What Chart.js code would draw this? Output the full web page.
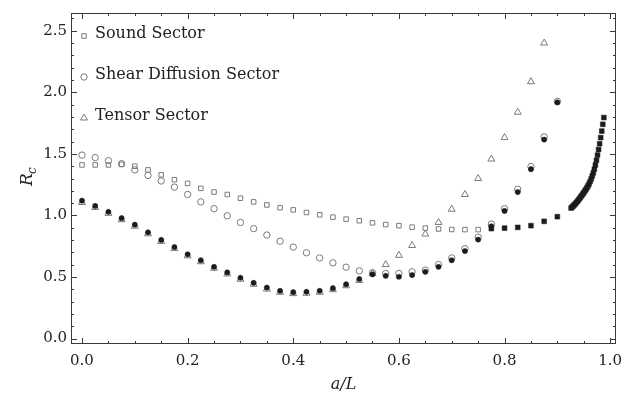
<!DOCTYPE html>
<html>
<head>
<meta charset="utf-8">
<script src="https://cdn.jsdelivr.net/npm/chart.js@4"></script>
<style>
  html, body { margin: 0; padding: 0; background: #fff; }
</style>
</head>
<body>
<canvas id="myChart" width="644" height="396"></canvas>
<script>
// a/L grid of the regular points
const gridX = [0.000, 0.025, 0.050, 0.075, 0.100, 0.125, 0.150, 0.175, 0.200, 0.225,
               0.250, 0.275, 0.300, 0.325, 0.350, 0.375, 0.400, 0.425, 0.450, 0.475,
               0.500, 0.525, 0.550, 0.575, 0.600, 0.625, 0.650, 0.675, 0.700, 0.725,
               0.750, 0.775, 0.800, 0.825, 0.850, 0.875, 0.900];

// open markers
const soundOpen = [1.41, 1.41, 1.41, 1.415, 1.40, 1.37, 1.33, 1.29, 1.26, 1.22,
                   1.19, 1.17, 1.14, 1.11, 1.085, 1.063, 1.045, 1.024, 1.005, 0.986,
                   0.970, 0.957, 0.940, 0.926, 0.917, 0.905, 0.897, 0.890, 0.886, 0.885,
                   0.885];
const shearOpen = [1.49, 1.47, 1.445, 1.42, 1.37, 1.325, 1.28, 1.23, 1.17, 1.11,
                   1.055, 0.997, 0.943, 0.893, 0.841, 0.791, 0.743, 0.697, 0.655, 0.615,
                   0.580, 0.550, 0.535, 0.529, 0.529, 0.542, 0.556, 0.601, 0.655, 0.730,
                   0.823, 0.930, 1.055, 1.213, 1.397, 1.638, 1.926];
const tensorOpen = [1.105, 1.065, 1.017, 0.966, 0.913, 0.851, 0.789, 0.731, 0.672, 0.624,
                    0.571, 0.525, 0.482, 0.441, 0.402, 0.376, 0.365, 0.368, 0.376, 0.397,
                    0.429, 0.472, 0.530, 0.601, 0.676, 0.756, 0.849, 0.943, 1.050, 1.170,
                    1.300, 1.458, 1.632, 1.838, 2.086, 2.400];

// filled markers
const filledCircle = [1.120, 1.077, 1.029, 0.978, 0.925, 0.863, 0.801, 0.743, 0.684, 0.636,
                      0.583, 0.537, 0.494, 0.453, 0.414, 0.388, 0.377, 0.380, 0.388, 0.409,
                      0.441, 0.484, 0.521, 0.510, 0.502, 0.516, 0.542, 0.583, 0.636, 0.711,
                      0.804, 0.912, 1.037, 1.190, 1.376, 1.616, 1.918];
const filledSquareX = [0.775, 0.800, 0.825, 0.850, 0.875, 0.900,
                       0.926, 0.928, 0.930, 0.932, 0.934, 0.936, 0.938, 0.940, 0.942, 0.944,
                       0.946, 0.948, 0.950, 0.952, 0.954, 0.956, 0.958, 0.960, 0.962, 0.964,
                       0.966, 0.968, 0.970, 0.972, 0.974, 0.976, 0.978, 0.980, 0.982, 0.984,
                       0.986, 0.988];
const filledSquare = [0.893, 0.897, 0.903, 0.917, 0.952, 0.990,
                      1.060, 1.068, 1.077, 1.086, 1.095, 1.105, 1.115, 1.126, 1.137, 1.149,
                      1.161, 1.173, 1.185, 1.198, 1.211, 1.225, 1.240, 1.256, 1.275, 1.296,
                      1.320, 1.346, 1.375, 1.410, 1.448, 1.490, 1.535, 1.582, 1.632, 1.685,
                      1.740, 1.795];

const legendLabels = ['Sound Sector', 'Shear Diffusion Sector', 'Tensor Sector'];

const xTicks = [0, 0.2, 0.4, 0.6, 0.8, 1.0];
const xMinor = [0.05, 0.1, 0.15, 0.25, 0.3, 0.35, 0.45, 0.5, 0.55, 0.65, 0.7, 0.75, 0.85, 0.9, 0.95];
const yTicks = [0, 0.5, 1.0, 1.5, 2.0, 2.5];
const yMinor = [0.1, 0.2, 0.3, 0.4, 0.6, 0.7, 0.8, 0.9, 1.1, 1.2, 1.3, 1.4,
                1.6, 1.7, 1.8, 1.9, 2.1, 2.2, 2.3, 2.4, 2.6];

const SERIF = '"DejaVu Serif", serif';
const GRAY = '#7a7a7a';
const INK = '#1c1c1c';

function pts(xs, ys) {
    return ys.map((v, i) => ({ x: xs[i], y: v }));
}

// frame with inward ticks on all four sides
const framePlugin = {
    id: 'frame',
    afterDraw(chart) {
        const { ctx, chartArea: a, scales: { x, y } } = chart;
        ctx.save();
        ctx.strokeStyle = '#3a3a3a';
        ctx.lineWidth = 1;
        ctx.strokeRect(a.left + 0.5, a.top + 0.5, a.right - a.left - 1, a.bottom - a.top - 1);
        ctx.beginPath();
        const tx = (v, len) => {
            const p = Math.round(x.getPixelForValue(v)) + 0.5;
            ctx.moveTo(p, a.bottom); ctx.lineTo(p, a.bottom - len);
            ctx.moveTo(p, a.top); ctx.lineTo(p, a.top + len);
        };
        const ty = (v, len) => {
            const p = Math.round(y.getPixelForValue(v)) + 0.5;
            ctx.moveTo(a.left, p); ctx.lineTo(a.left + len, p);
            ctx.moveTo(a.right, p); ctx.lineTo(a.right - len, p);
        };
        xTicks.forEach(v => tx(v, 6));
        xMinor.forEach(v => tx(v, 3));
        yTicks.forEach(v => ty(v, 6));
        yMinor.forEach(v => ty(v, 3));
        ctx.stroke();

        // y title R_c
        ctx.fillStyle = '#222';
        ctx.translate(28, 178);
        ctx.rotate(-Math.PI / 2);
        ctx.textBaseline = 'middle';
        ctx.font = 'italic 17px ' + SERIF;
        ctx.fillText('R', -8, 0);
        ctx.font = 'italic 12px ' + SERIF;
        ctx.fillText('c', 4, 5);
        ctx.restore();
    }
};

// legend inside the plot
const legendPlugin = {
    id: 'inlineLegend',
    afterDraw(chart) {
        const ctx = chart.ctx;
        const rows = [34, 75, 116];
        ctx.save();
        legendLabels.forEach((label, i) => {
            const ds = chart.data.datasets[i];
            ctx.strokeStyle = ds.borderColor;
            ctx.fillStyle = 'rgba(0,0,0,0)';
            ctx.lineWidth = 1;
            Chart.helpers.drawPoint(ctx, {
                pointStyle: ds.pointStyle, radius: ds.pointRadius, borderWidth: 1, rotation: 0
            }, 84, rows[i] + 2);
            ctx.fillStyle = '#222';
            ctx.font = '16px ' + SERIF;
            ctx.textBaseline = 'middle';
            ctx.fillText(label, 95, rows[i]);
        });
        ctx.restore();
    }
};

const ctx = document.getElementById('myChart').getContext('2d');
const myChart = new Chart(ctx, {
    type: 'scatter',
    data: {
        datasets: [{
            label: legendLabels[0],
            data: pts(gridX, soundOpen),
            pointStyle: 'rect',
            pointRadius: 3.2,
            borderColor: GRAY,
            backgroundColor: 'rgba(0,0,0,0)',
            borderWidth: 1,
            order: 3
        }, {
            label: legendLabels[1],
            data: pts(gridX, shearOpen),
            pointStyle: 'circle',
            pointRadius: 3.2,
            borderColor: GRAY,
            backgroundColor: 'rgba(0,0,0,0)',
            borderWidth: 1,
            order: 2
        }, {
            label: legendLabels[2],
            data: pts(gridX, tensorOpen),
            pointStyle: 'triangle',
            pointRadius: 4,
            borderColor: GRAY,
            backgroundColor: 'rgba(0,0,0,0)',
            borderWidth: 1,
            order: 1
        }, {
            label: 'filled circles',
            data: pts(gridX, filledCircle),
            pointStyle: 'circle',
            pointRadius: 2.6,
            borderColor: INK,
            backgroundColor: INK,
            borderWidth: 0.5,
            order: 0
        }, {
            label: 'filled squares',
            data: pts(filledSquareX, filledSquare),
            pointStyle: 'rect',
            pointRadius: 3.4,
            borderColor: INK,
            backgroundColor: INK,
            borderWidth: 0.5,
            order: 0
        }]
    },
    options: {
        responsive: false,
        animation: false,
        layout: { padding: { top: 7, right: 28, left: 0, bottom: 0 } },
        plugins: {
            legend: { display: false },
            tooltip: { enabled: false }
        },
        scales: {
            x: {
                type: 'linear',
                min: -0.0208,
                max: 1.011,
                afterBuildTicks: s => { s.ticks = xTicks.map(v => ({ value: v })); },
                afterFit: s => { s.height = 52; },
                grid: { display: false, drawTicks: false },
                border: { display: false },
                ticks: {
                    color: '#222',
                    font: { family: SERIF, size: 15 },
                    padding: 8,
                    maxRotation: 0,
                    callback: v => v.toFixed(1)
                },
                title: {
                    display: true,
                    text: 'a/L',
                    color: '#222',
                    font: { family: SERIF, size: 16, style: 'italic' },
                    padding: { top: 4, bottom: 2 }
                }
            },
            y: {
                type: 'linear',
                min: -0.044,
                max: 2.644,
                afterBuildTicks: s => { s.ticks = yTicks.map(v => ({ value: v })); },
                afterFit: s => { s.width = 71; },
                grid: { display: false, drawTicks: false },
                border: { display: false },
                ticks: {
                    color: '#222',
                    font: { family: SERIF, size: 15 },
                    padding: 4,
                    callback: v => v.toFixed(1)
                }
            }
        }
    },
    plugins: [framePlugin, legendPlugin]
});
</script>
</body>
</html>
